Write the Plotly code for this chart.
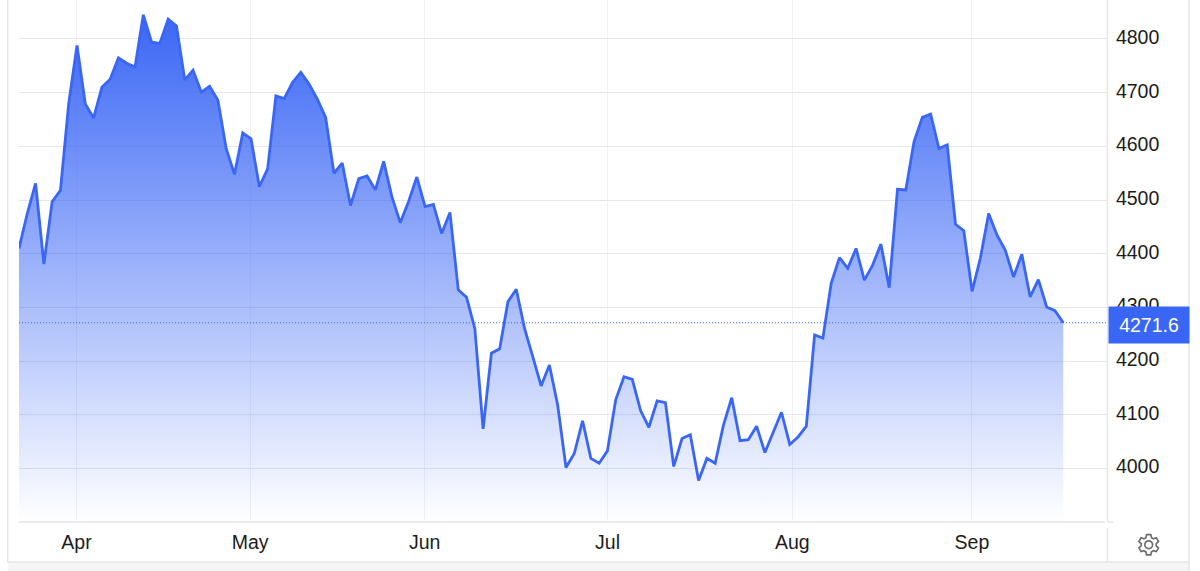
import math
import plotly.graph_objects as go

prices = [
    4410, 4475, 4531, 4381, 4497, 4518, 4680, 4788, 4679, 4653,
    4710, 4725, 4765, 4755, 4748, 4845, 4794, 4792, 4837, 4824,
    4724, 4742, 4701, 4712, 4686, 4596, 4548, 4625, 4614, 4525,
    4558, 4694, 4689, 4719, 4738, 4716, 4688, 4654, 4550, 4569,
    4490, 4540, 4545, 4519, 4572, 4506, 4458, 4497, 4543, 4488,
    4492, 4438, 4477, 4333, 4319, 4261, 4074, 4215, 4223, 4311,
    4334, 4261, 4208, 4154, 4193, 4118, 4002, 4028, 4089, 4019,
    4010, 4033, 4128, 4171, 4166, 4108, 4077, 4126, 4123, 4004,
    4056, 4063, 3978, 4019, 4010, 4081, 4132, 4052, 4054, 4079,
    4030, 4069, 4105, 4045, 4059, 4079, 4249, 4243, 4345, 4393,
    4373, 4410, 4351, 4379, 4418, 4337, 4520, 4519, 4609, 4654,
    4660, 4596, 4603, 4455, 4443, 4330, 4392, 4475, 4435, 4407,
    4357, 4399, 4320, 4352, 4301, 4294, 4271.6,
]
session_numbers = list(range(len(prices)))
last_price = prices[-1]
month_labels = ["Apr", "May", "Jun", "Jul", "Aug", "Sep"]
month_sessions = [6.94, 27.88, 48.94, 71.02, 93.3, 114.98]
price_ticks = [4000, 4100, 4200, 4300, 4400, 4500, 4600, 4700, 4800]

W, H = 1200, 571
L, R, T, B = 19, 1108, 0, 522
BLUE = "#3a66f5"
FONT = "Liberation Sans, Arial, sans-serif"


def px(x):
    return (x - L) / (R - L)


def py(y):
    return (B - y) / (B - T)


def rect(x0, y0, x1, y1, fill):
    return dict(type="rect", xref="paper", yref="paper", x0=px(x0), x1=px(x1),
                y0=py(y0), y1=py(y1), fillcolor=fill, line=dict(width=0), layer="below")


def seg(x0, y0, x1, y1, color="#e4e4e6", width=1.4):
    return dict(type="line", xref="paper", yref="paper", x0=px(x0), x1=px(x1),
                y0=py(y0), y1=py(y1), line=dict(color=color, width=width), layer="below")


def gear_path(cx, cy, r_out, r_in, teeth=6):
    pts = []
    step = 2 * math.pi / teeth
    for i in range(teeth):
        a = i * step - math.pi / 2
        for off, r in ((-0.36, r_in), (-0.2, r_out), (0.2, r_out), (0.36, r_in)):
            t = a + off * step * 1.0
            pts.append((cx + r * math.cos(t), cy + r * math.sin(t)))
    d = "M " + " L ".join(f"{px(a):.5f},{py(b):.5f}" for a, b in pts) + " Z"
    return d


shapes = [
    rect(7.7, 562, 1189, 571, "#f5f5f5"),
    seg(7.7, 0, 7.7, 562),
    seg(1189, 0, 1189, 571),
    seg(7.7, 562, 1189, 562),
    seg(1107.5, 0, 1107.5, 522),
    seg(1107.5, 528, 1107.5, 562),
    seg(19, 522, 1105, 522),
    seg(1107.5, 522, 1113, 522),
    dict(type="line", xref="paper", yref="y", x0=0, x1=1, y0=last_price, y1=last_price,
         line=dict(color=BLUE, width=1.2, dash="1px,2px"), layer="above"),
    dict(type="path", xref="paper", yref="paper", path=gear_path(1148.7, 544.7, 10.3, 7.6),
         fillcolor="rgba(0,0,0,0)", line=dict(color="#6f6f6f", width=1.7), layer="above"),
    dict(type="circle", xref="paper", yref="paper", x0=px(1144.8), x1=px(1152.6),
         y0=py(548.6), y1=py(540.8), fillcolor="rgba(0,0,0,0)",
         line=dict(color="#6f6f6f", width=1.7), layer="above"),
]

fig = go.Figure()
fig.add_trace(go.Scatter(
    x=session_numbers, y=prices, mode="lines", fill="tozeroy",
    line=dict(color=BLUE, width=2.8, shape="linear"),
    fillgradient=dict(type="vertical", start=3900, stop=4845,
                      colorscale=[[0, "rgba(58,102,245,0)"], [1, "rgba(58,102,245,1)"]]),
    hoverinfo="skip", showlegend=False,
))

fig.update_layout(
    width=W, height=H, autosize=False,
    margin=dict(l=L, r=W - R, t=T, b=H - B, pad=0),
    paper_bgcolor="white", plot_bgcolor="white",
    font=dict(family=FONT, size=19, color="#1c1c1c"),
    shapes=shapes,
    xaxis=dict(range=[0, 131.4], tickmode="array", tickvals=month_sessions, ticktext=month_labels,
               showgrid=True, gridcolor="#eef1f7", gridwidth=1.4, zeroline=False, showline=False,
               ticks="outside", ticklen=3, tickcolor="rgba(0,0,0,0)",
               tickfont=dict(family=FONT, size=19.5, color="#1c1c1c")),
    yaxis=dict(range=[3900.6, 4872.6], side="right", tickmode="array", tickvals=price_ticks,
               showgrid=True, gridcolor="#e6e6e8", gridwidth=1.4, zeroline=False, showline=False,
               ticks="outside", ticklen=3, ticklabelshift=-2, tickcolor="rgba(0,0,0,0)",
               tickfont=dict(family=FONT, size=19.5, color="#1c1c1c")),
    annotations=[dict(
        xref="paper", yref="y", x=1, y=last_price, xanchor="left", yanchor="middle",
        yshift=-2.3, text=f"{last_price:.1f}", showarrow=False, width=80, height=36,
        bgcolor=BLUE, borderpad=0, align="center", valign="middle",
        font=dict(family=FONT, size=19.5, color="white"),
    )],
)

fig.write_html("out.html", config=dict(displayModeBar=False),
               post_script="document.body.style.margin='0';")
